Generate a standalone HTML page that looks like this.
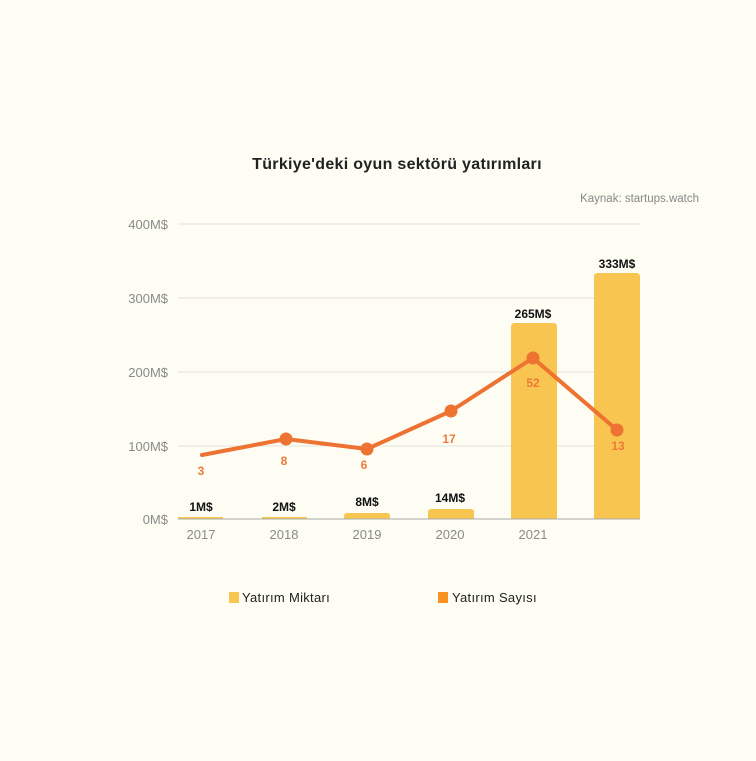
<!DOCTYPE html>
<html><head><meta charset="utf-8"><style>
html,body{margin:0;padding:0;background:#fdfdf4;}
svg{display:block;}
text{font-family:"Liberation Sans","DejaVu Sans",sans-serif;}
</style></head><body>
<svg width="756" height="761" viewBox="0 0 756 761" xmlns="http://www.w3.org/2000/svg">
<rect width="756" height="761" fill="#fdfdf4"/>
<text x="397" y="169" text-anchor="middle" font-size="16" fill="#222" font-weight="bold" letter-spacing="0.3">Türkiye'deki oyun sektörü yatırımları</text>
<text x="699" y="202" text-anchor="end" font-size="11.5" fill="#888">Kaynak: startups.watch</text>
<g stroke="#e4e4dc" stroke-width="1">
<line x1="178" y1="224" x2="640" y2="224"/>
<line x1="178" y1="298" x2="640" y2="298"/>
<line x1="178" y1="372" x2="640" y2="372"/>
<line x1="178" y1="446" x2="640" y2="446"/>
</g>
<g font-size="13" fill="#8a8a8a" text-anchor="end">
<text x="168" y="229">400M$</text>
<text x="168" y="303">300M$</text>
<text x="168" y="377">200M$</text>
<text x="168" y="451">100M$</text>
<text x="168" y="524">0M$</text>
</g>
<g fill="#f8c550">
<rect x="178" y="517" width="45" height="2"/>
<rect x="262" y="517" width="45" height="2"/>
<path d="M344 519 V516 Q344 513 347 513 H387 Q390 513 390 516 V519 Z"/>
<path d="M428 519 V512 Q428 509 431 509 H471 Q474 509 474 512 V519 Z"/>
<path d="M511 519 V327 Q511 323 515 323 H553 Q557 323 557 327 V519 Z"/>
<path d="M594 519 V277 Q594 273 598 273 H636 Q640 273 640 277 V519 Z"/>
</g>
<line x1="178" y1="519" x2="640" y2="519" stroke="#aaa" stroke-width="1"/>
<g font-size="13" fill="#8a8a8a" text-anchor="middle">
<text x="201" y="539">2017</text>
<text x="284" y="539">2018</text>
<text x="367" y="539">2019</text>
<text x="450" y="539">2020</text>
<text x="533" y="539">2021</text>
</g>
<g font-size="12" fill="#111" font-weight="bold" text-anchor="middle">
<text x="201" y="511">1M$</text>
<text x="284" y="511">2M$</text>
<text x="367" y="506">8M$</text>
<text x="450" y="502">14M$</text>
<text x="533" y="318">265M$</text>
<text x="617" y="268">333M$</text>
</g>
<polyline points="202,455 286,439 367,449 451,411 533,358 617,430" fill="none" stroke="#ee7232" stroke-width="4" stroke-linejoin="round" stroke-linecap="round"/>
<g fill="#ee7232">
<circle cx="286" cy="439" r="6.5"/>
<circle cx="367" cy="449" r="6.5"/>
<circle cx="451" cy="411" r="6.5"/>
<circle cx="533" cy="358" r="6.5"/>
<circle cx="617" cy="430" r="6.5"/>
</g>
<g font-size="12" fill="#ee7a3a" font-weight="bold" text-anchor="middle">
<text x="201" y="475">3</text>
<text x="284" y="465">8</text>
<text x="364" y="469">6</text>
<text x="449" y="443">17</text>
<text x="533" y="387">52</text>
<text x="618" y="450">13</text>
</g>
<rect x="229" y="592" width="10" height="11" fill="#f8c550"/>
<text x="242" y="602" font-size="13" fill="#222" letter-spacing="0.3">Yatırım Miktarı</text>
<rect x="438" y="592" width="10" height="11" fill="#f7931e"/>
<text x="452" y="602" font-size="13" fill="#222" letter-spacing="0.3">Yatırım Sayısı</text>
</svg>
</body></html>
